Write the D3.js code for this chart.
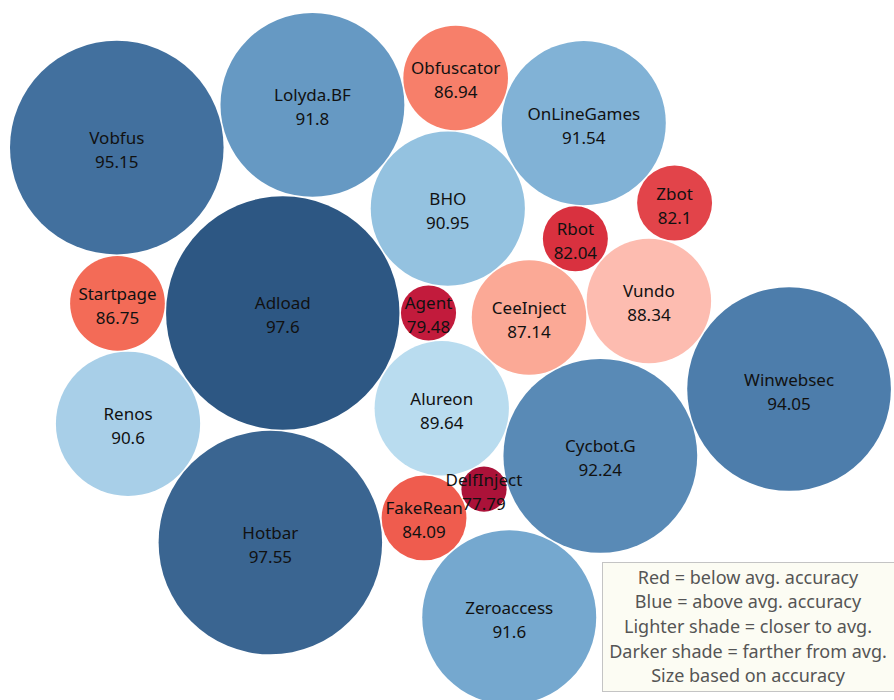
<!DOCTYPE html>
<html>
<head>
<meta charset="utf-8">
<script src="https://cdn.jsdelivr.net/npm/d3@7"></script>
<style>
  html, body { margin: 0; padding: 0; background: #ffffff; }
  svg { display: block; }
</style>
</head>
<body>
<svg id="chart" width="894" height="700"></svg>
<script>
// ---------------- data ----------------
const categories = ["Adload","Agent","Alureon","BHO","CeeInject","Cycbot.G","DelfInject","FakeRean",
  "Hotbar","Lolyda.BF","Obfuscator","OnLineGames","Rbot","Renos","Startpage","Vobfus","Vundo",
  "Winwebsec","Zbot","Zeroaccess"];
const accuracy = [97.6, 79.48, 89.64, 90.95, 87.14, 92.24, 77.79, 84.09,
  97.55, 91.8, 86.94, 91.54, 82.04, 90.6, 86.75, 95.15, 88.34,
  94.05, 82.1, 91.6];
const legendLines = ["Red = below avg. accuracy", "Blue = above avg. accuracy",
  "Lighter shade = closer to avg.", "Darker shade = farther from avg.", "Size based on accuracy"];

// packing topology: each bubble (after the first three) is packed against two
// earlier bubbles that are neighbours on the front chain (alphabetical packing order)
const packNeighbours = {
  "BHO": ["Adload", "Agent"],
  "CeeInject": ["BHO", "Alureon"],
  "Cycbot.G": ["CeeInject", "Alureon"],
  "DelfInject": ["Cycbot.G", "Alureon"],
  "FakeRean": ["DelfInject", "Alureon"],
  "Hotbar": ["FakeRean", "Adload"],
  "Lolyda.BF": ["Adload", "BHO"],
  "Obfuscator": ["Lolyda.BF", "BHO"],
  "OnLineGames": ["Obfuscator", "BHO"],
  "Rbot": ["OnLineGames", "CeeInject"],
  "Renos": ["Hotbar", "Adload"],
  "Startpage": ["Renos", "Adload"],
  "Vobfus": ["Startpage", "Lolyda.BF"],
  "Vundo": ["Rbot", "CeeInject"],
  "Winwebsec": ["Vundo", "Cycbot.G"],
  "Zbot": ["OnLineGames", "Vundo"],
  "Zeroaccess": ["Cycbot.G", "FakeRean"]
};

// palettes (styles)
const redShades  = ["#ab1239","#c21b3c","#d9313f","#e2444a","#ef5c4e","#f36b57","#f77f6a","#fba996","#fdbcb0"];
const blueShades = ["#b9dcef","#a8cfe8","#94c2e0","#81b2d6","#75a8cf","#6699c3","#598ab6","#4d7dab","#42709e","#3a6591","#2d5783"];

// ---------------- setup ----------------
const W = 894, H = 700;
const svg = d3.select("#chart");

const sortedVals = accuracy.slice().sort(d3.ascending);
const avg = d3.mean(accuracy);
const below = sortedVals.filter(v => v < avg);
const above = sortedVals.filter(v => v >= avg);

const rScale = d3.scaleLinear().domain([0, accuracy.length - 1]).range([22.6, 116.7]);
const redScale = d3.scaleLinear().domain([0, below.length - 1]).range([0, redShades.length - 1]);
const blueScale = d3.scaleLinear().domain([0, above.length - 1]).range([0, blueShades.length - 1]);
const redCol = d3.scaleLinear().domain(d3.range(redShades.length)).range(redShades);
const blueCol = d3.scaleLinear().domain(d3.range(blueShades.length)).range(blueShades);
const colorOf = v => v < avg ? redCol(redScale(below.indexOf(v))) : blueCol(blueScale(above.indexOf(v)));

const gap = 1.5; // spacing between packed bubbles
const nodes = categories.map((c, i) => ({ name: c, value: accuracy[i], rank: sortedVals.indexOf(accuracy[i]) }))
  .sort((a, b) => d3.ascending(a.name, b.name));
nodes.forEach(d => { d.r = rScale(d.rank); d.pr = d.r + gap / 2; });
const byName = new Map(nodes.map(d => [d.name, d]));

// tangent placement (same geometry as d3.packSiblings' front-chain step)
function place(b, a, c) {
  const dx = b.x - a.x, dy = b.y - a.y, d2 = dx * dx + dy * dy;
  let a2 = a.pr + c.pr, b2 = b.pr + c.pr, x, y;
  a2 *= a2; b2 *= b2;
  if (a2 > b2) {
    x = (d2 + b2 - a2) / (2 * d2);
    y = Math.sqrt(Math.max(0, b2 / d2 - x * x));
    c.x = b.x - x * dx - y * dy;
    c.y = b.y - x * dy + y * dx;
  } else {
    x = (d2 + a2 - b2) / (2 * d2);
    y = Math.sqrt(Math.max(0, a2 / d2 - x * x));
    c.x = a.x + x * dx - y * dy;
    c.y = a.y + x * dy + y * dx;
  }
}
const n0 = nodes[0], n1 = nodes[1], n2 = nodes[2];
n0.x = -n1.pr; n0.y = 0;
n1.x = n0.pr; n1.y = 0;
place(n1, n0, n2);
nodes.slice(3).forEach(d => {
  const [pa, pb] = packNeighbours[d.name];
  place(byName.get(pa), byName.get(pb), d);
});

const x0 = d3.min(nodes, d => d.x - d.r), x1 = d3.max(nodes, d => d.x + d.r);
const y0 = d3.min(nodes, d => d.y - d.r), y1 = d3.max(nodes, d => d.y + d.r);
const margin = { left: 10, top: 13 };
const xScale = d3.scaleLinear().domain([x0, x1]).range([margin.left, margin.left + (x1 - x0)]);
const yScale = d3.scaleLinear().domain([y0, y1]).range([margin.top, margin.top + (y1 - y0)]);

const g = svg.append("g");

g.selectAll("circle.bubble")
  .data(nodes)
  .join("circle")
  .attr("class", "bubble")
  .attr("cx", d => xScale(d.x))
  .attr("cy", d => yScale(d.y))
  .attr("r", d => d.r)
  .attr("fill", d => colorOf(d.value));

const labels = g.selectAll("g.label")
  .data(nodes)
  .join("g")
  .attr("class", "label")
  .attr("transform", d => `translate(${xScale(d.x)},${yScale(d.y)})`)
  .attr("font-family", "'Noto Sans', 'Open Sans', sans-serif")
  .attr("font-size", 17)
  .attr("fill", "#111")
  .attr("text-anchor", "middle");

labels.append("text").attr("y", -3.5).text(d => d.name);
labels.append("text").attr("y", 20.5).text(d => d.value);

// ---------------- legend ----------------
const lg = svg.append("g");
lg.append("rect")
  .attr("x", 602.5).attr("y", 562.5)
  .attr("width", 300).attr("height", 129)
  .attr("fill", "#fcfcf3")
  .attr("stroke", "#c4c4c4")
  .attr("stroke-width", 1);

lg.selectAll("text")
  .data(legendLines)
  .join("text")
  .attr("x", 748)
  .attr("y", (d, i) => 583.5 + i * 24.7)
  .attr("text-anchor", "middle")
  .attr("font-family", "'Noto Sans', 'Open Sans', sans-serif")
  .attr("font-size", 18)
  .attr("fill", "#555")
  .text(d => d);
</script>
</body>
</html>
